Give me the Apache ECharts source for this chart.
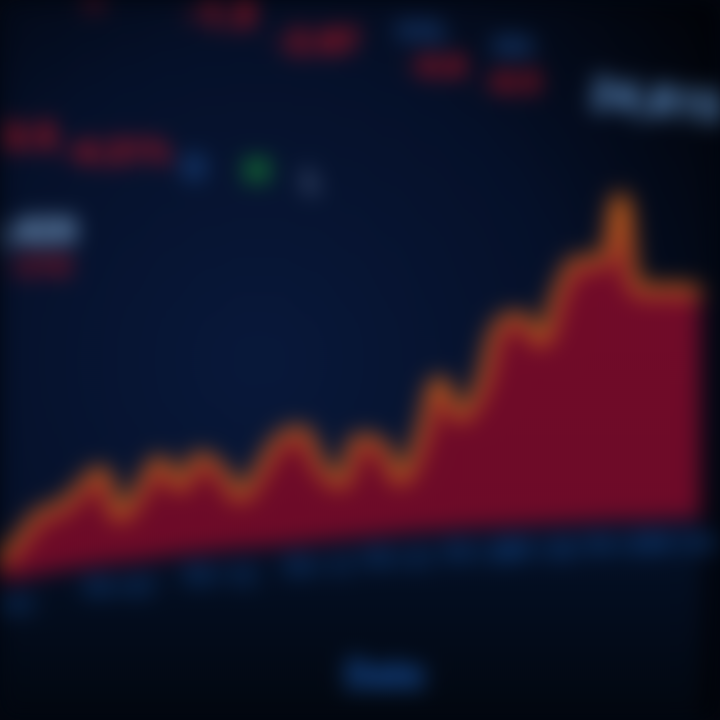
<!DOCTYPE html>
<html><head><meta charset="utf-8">
<script src="https://cdn.jsdelivr.net/npm/echarts@6/dist/echarts.min.js"></script>
<style>
html,body{margin:0;padding:0;background:#02060f;overflow:hidden;}
#c{width:720px;height:720px;filter:blur(11px);}
</style></head><body><div id="c"></div>
<script>
// categories (trading days)
const categories = ['03-01','03-02','03-03','03-04','03-05','03-06','03-07','03-08','03-09','03-10','03-11','03-12',
  '03-13','03-14','03-15','03-16','03-17','03-18','03-19','03-20','03-21','03-22','03-23','03-24',
  '03-25','03-26','03-27','03-28','03-29','03-30','03-31','04-01','04-02','04-03','04-04','04-05'];
// price series (upper edge of the red area)
const price = [157,180,205,212,230,248,205,230,258,235,262,250,225,250,280,288,255,238,280,275,242,280,338,305,
  332,395,402,380,430,458,458,522,430,430,430,427];
// lower edge of the red area
const floorLine = [140,142,146,150,153,156,158,160,163,166,168,170,172,173,175,177,179,181,183,185,187,189,190,192,
  193,194,195,196,197,198,199,200,200,201,202,202];
// which categories carry an axis label
const labelIdx = [0,6,11,16,20,24,27,31,34];
// header texts
const headerTexts = ['12','-1.3','-2.07','-0.8','-0.5','VOL','MA','24,815','-3.5','-4.21%','O','H','L','9,420','-210','Date'];

const chart = echarts.init(document.getElementById('c'));
const bg = new echarts.graphic.RadialGradient(0.36,0.5,0.78,[
  {offset:0,color:'#08183a'},{offset:0.55,color:'#051029'},{offset:1,color:'#010308'}]);
const red='#d01622', wb='#86b0dc';
const hdr = [
  [92,4,red,20],[220,18,red,36],[316,44,red,34],[436,68,red,30],[511,84,red,30],
  [422,34,'#1a4480',28],[514,48,'#1a4480',26],[656,104,'#6498d2',42],
  [22,140,red,36],[116,154,red,34],[194,170,'#1d5096',34],[257,173,'#1aa535',34],[312,183,'#5d7196',32],
  [30,234,wb,36],[38,268,'#a01424',30],[385,678,'#1650a0',38]
];
const graphics = hdr.map((h,i)=>({type:'text',x:h[0],y:h[1],z:100,rotation:i===7?-0.12:0,
  style:{text:headerTexts[i],fill:h[2],font:'900 '+h[3]+'px Roboto',align:'center',verticalAlign:'middle'}}));

chart.setOption({
  backgroundColor: bg,
  animation:false,
  grid:{left:0,right:20,top:0,bottom:0},
  graphic: graphics,
  xAxis:{type:'category',data:categories,boundaryGap:false,axisLine:{show:false},axisTick:{show:false},axisLabel:{show:false},
    splitLine:{show:true,lineStyle:{color:'rgba(40,70,120,0.12)'}}},
  yAxis:{type:'value',min:0,max:720,show:false},
  series:[
    {name:'Price',type:'line',data:price,smooth:0.45,symbol:'none',z:2,
      lineStyle:{width:8,color:'#c05a1c',shadowColor:'#d8741c',shadowBlur:8},
      areaStyle:{color:new echarts.graphic.LinearGradient(0,0,0,1,[{offset:0,color:'#720b29'},{offset:1,color:'#6a0a27'}]),opacity:1}},
    {name:'Floor',type:'line',data:floorLine,symbol:'none',z:3,lineStyle:{width:0},
      areaStyle:{color:new echarts.graphic.LinearGradient(0,0,0,1,[{offset:0,color:'#041129'},{offset:1,color:'#02070f'}]),opacity:1}},
    {name:'Labels',type:'scatter',symbolSize:0,z:4,
      data:floorLine.map((v,i)=>labelIdx.includes(i)?v:'-'),
      label:{show:true,position:'bottom',distance:14,color:'#134a90',fontSize:26,fontWeight:900,fontFamily:'Roboto',
        formatter:p=>categories[p.dataIndex]}}
  ]
});
</script></body></html>
